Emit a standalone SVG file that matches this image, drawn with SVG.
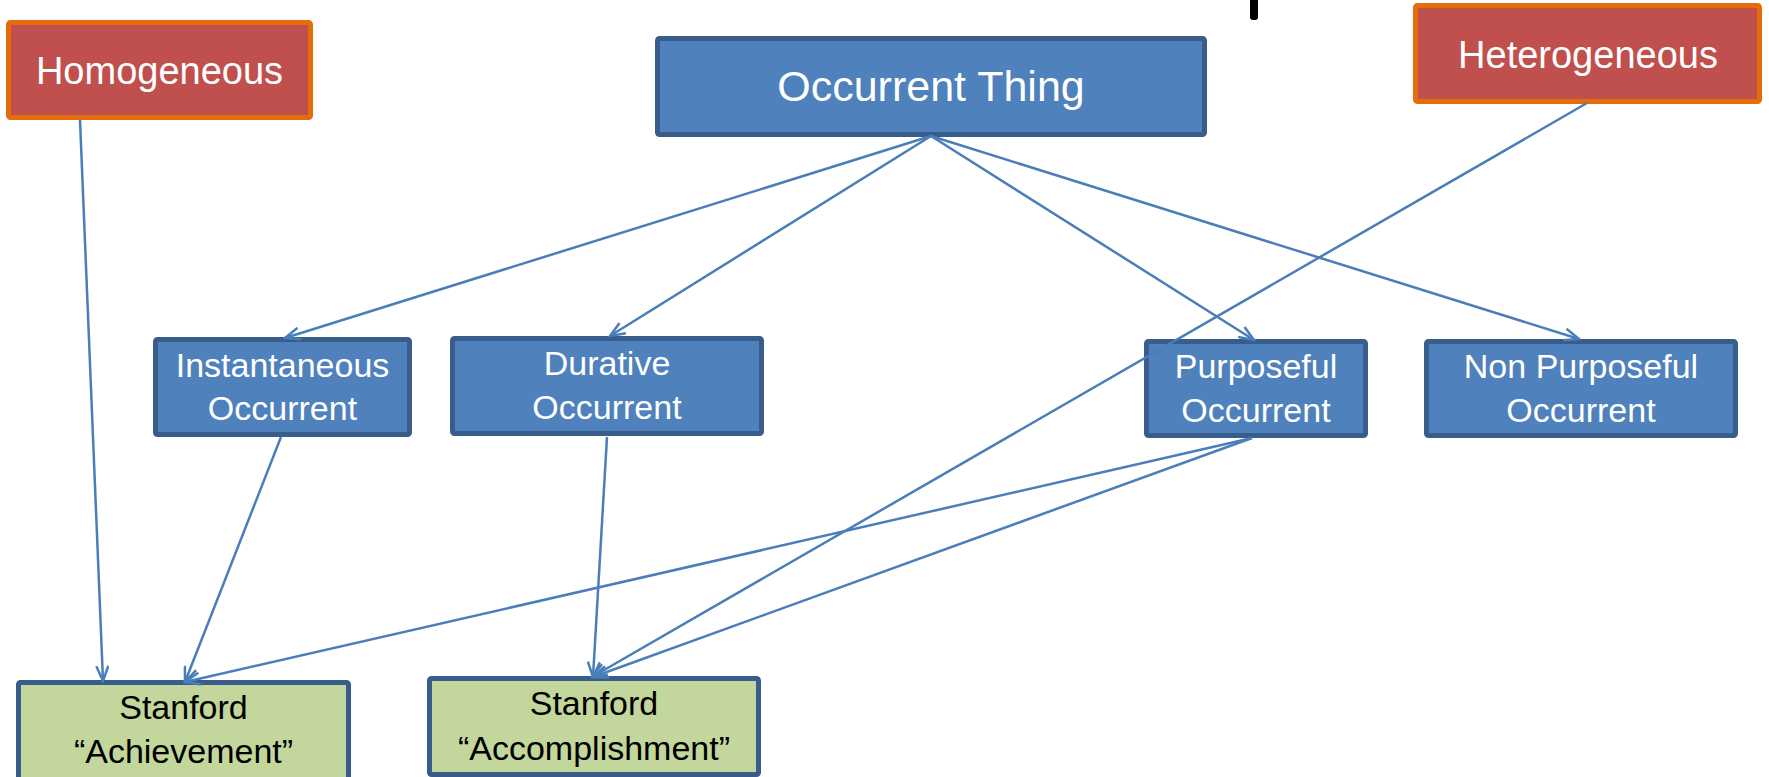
<svg xmlns="http://www.w3.org/2000/svg" width="1769" height="777" viewBox="0 0 1769 777">
<style>
.red{fill:#C0504D;stroke:#E46C0A;stroke-width:5}
.blue{fill:#4F81BD;stroke:#385D8A;stroke-width:5}
.green{fill:#C3D69B;stroke:#385D8A;stroke-width:5}
.wt{font-family:"Liberation Sans",Arial,sans-serif;fill:#FFFFFF;text-anchor:middle}
.bt{font-family:"Liberation Sans",Arial,sans-serif;fill:#000000;text-anchor:middle}
.c{stroke:#4A7EBB;stroke-width:2.5;fill:none}
</style>
<defs>
<marker id="arr" viewBox="0 0 18 14" refX="16" refY="7" markerWidth="18" markerHeight="14" markerUnits="userSpaceOnUse" orient="auto">
<path d="M1,1 L16,7 L1,13" fill="none" stroke="#4A7EBB" stroke-width="2.5"/>
</marker>
</defs>
<rect width="1769" height="777" fill="#FFFFFF"/>
<rect x="1250" y="-6" width="8" height="26" rx="3" fill="#000000"/>
<g id="homogeneous">
<rect class="red" x="8.5" y="22.5" width="302" height="95" rx="2"/>
<text class="wt" x="159.5" y="84" font-size="38">Homogeneous</text>
</g>
<g id="occurrent-thing">
<rect class="blue" x="657.5" y="38.5" width="547" height="96" rx="2"/>
<text class="wt" x="931" y="101" font-size="43">Occurrent Thing</text>
</g>
<g id="heterogeneous">
<rect class="red" x="1415.5" y="5.5" width="344" height="96" rx="2"/>
<text class="wt" x="1588" y="68" font-size="38">Heterogeneous</text>
</g>
<g id="instantaneous">
<rect class="blue" x="155.5" y="339.5" width="254" height="95" rx="2"/>
<text class="wt" x="282.5" y="377" font-size="34">Instantaneous</text>
<text class="wt" x="282.5" y="420" font-size="34">Occurrent</text>
</g>
<g id="durative">
<rect class="blue" x="452.5" y="338.5" width="309" height="95" rx="2"/>
<text class="wt" x="607" y="375" font-size="34">Durative</text>
<text class="wt" x="607" y="419" font-size="34">Occurrent</text>
</g>
<g id="purposeful">
<rect class="blue" x="1146.5" y="341.5" width="219" height="94" rx="2"/>
<text class="wt" x="1256" y="378" font-size="34">Purposeful</text>
<text class="wt" x="1256" y="422" font-size="34">Occurrent</text>
</g>
<g id="non-purposeful">
<rect class="blue" x="1426.5" y="341.5" width="309" height="94" rx="2"/>
<text class="wt" x="1581" y="378" font-size="34">Non Purposeful</text>
<text class="wt" x="1581" y="422" font-size="34">Occurrent</text>
</g>
<g id="achievement">
<rect class="green" x="18.5" y="682.5" width="330" height="97" rx="2"/>
<text class="bt" x="183.5" y="719" font-size="34">Stanford</text>
<text class="bt" x="183.5" y="763" font-size="34">“Achievement”</text>
</g>
<g id="accomplishment">
<rect class="green" x="429.5" y="678.5" width="329" height="96" rx="2"/>
<text class="bt" x="594" y="715" font-size="34">Stanford</text>
<text class="bt" x="594" y="760" font-size="34">“Accomplishment”</text>
</g>
<g id="connectors" marker-end="url(#arr)">
<line class="c" x1="931" y1="136" x2="285" y2="338" marker-end="url(#arr)"/>
<line class="c" x1="931" y1="136" x2="610" y2="336" marker-end="url(#arr)"/>
<line class="c" x1="931" y1="136" x2="1254" y2="340" marker-end="url(#arr)"/>
<line class="c" x1="931" y1="136" x2="1579" y2="339" marker-end="url(#arr)"/>
<line class="c" x1="1587" y1="103" x2="592" y2="677" marker-end="url(#arr)"/>
<line class="c" x1="80" y1="120" x2="103" y2="681" marker-end="url(#arr)"/>
<line class="c" x1="281" y1="437" x2="185" y2="682" marker-end="url(#arr)"/>
<line class="c" x1="1252" y1="438" x2="185" y2="682" marker-end="url(#arr)"/>
<line class="c" x1="1252" y1="438" x2="593" y2="677" marker-end="url(#arr)"/>
<line class="c" x1="607" y1="437" x2="593" y2="677" marker-end="url(#arr)"/>
</g>
</svg>
